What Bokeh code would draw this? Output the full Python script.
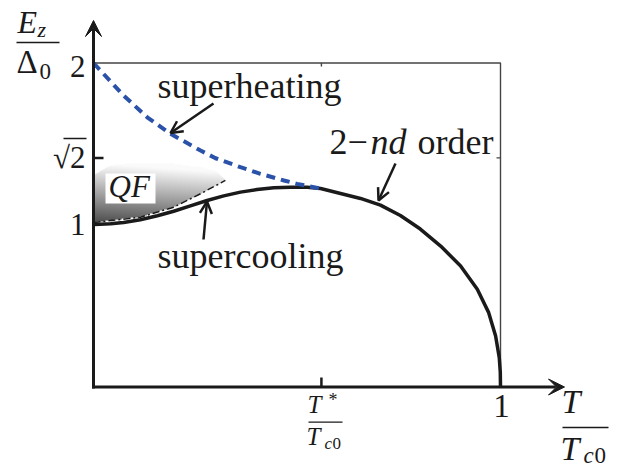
import numpy as np
from bokeh.plotting import figure
from bokeh.models import Range1d, Label, Arrow, VeeHead, OpenHead
from bokeh.embed import file_html
from bokeh.resources import INLINE

# ---------------- data ----------------
# second-order transition line (solid)
T_second = [0.002, 0.042, 0.074, 0.115, 0.157, 0.197, 0.238, 0.279, 0.320, 0.361,
            0.402, 0.443, 0.484, 0.525, 0.558, 0.607, 0.656, 0.705, 0.754, 0.803,
            0.853, 0.902, 0.943, 0.971, 0.988, 0.997, 0.9995, 1.000]
E_second = [1.003, 1.007, 1.015, 1.032, 1.057, 1.085, 1.118, 1.151, 1.180, 1.203,
            1.219, 1.230, 1.233, 1.233, 1.225, 1.194, 1.164, 1.123, 1.059, 0.975,
            0.870, 0.747, 0.603, 0.459, 0.315, 0.181, 0.090, 0.000]
# superheating line (blue dashed)
T_superheat = [0.000, 0.074, 0.132, 0.189, 0.263, 0.300, 0.361, 0.410, 0.468, 0.500, 0.558]
E_superheat = [2.000, 1.799, 1.665, 1.563, 1.460, 1.412, 1.357, 1.316, 1.275, 1.254, 1.225]
# supercooling line (dash-dot), lower edge of QF region
T_supercool = [0.000, 0.115, 0.197, 0.263, 0.324]
E_supercool = [1.015, 1.048, 1.110, 1.193, 1.275]
# upper edge of the QF (shaded) region
T_qf_top = [0.000, 0.042, 0.098, 0.182, 0.263, 0.300, 0.324]
E_qf_top = [1.305, 1.367, 1.380, 1.380, 1.355, 1.330, 1.275]

y_ticks = [2.0, float(np.sqrt(2.0)), 1.0]
y_tick_labels = ["2", "\u221a2", "1"]
T_star = 0.56
x_ticks = [T_star, 1.0]
T_max, E_max = 1.0, 2.0

# ---------------- geometry (page pixels -> data) ----------------
W, H = 628, 470
X0, X1 = 93.0, 500.0
Y0, YS = 386.5, 162.0


def tx(px):
    return (px - X0) / (X1 - X0)


def ey(py):
    return (Y0 - py) / YS


SERIF = "Liberation Serif"
INK = "#1a1a1a"
BLUE = "#2a52a8"

p = figure(width=W, height=H,
           x_range=Range1d(tx(0), tx(W)), y_range=Range1d(ey(H), ey(0)),
           output_backend="svg", toolbar_location=None,
           x_axis_location=None, y_axis_location=None, min_border=0)
p.outline_line_color = None
p.background_fill_color = "white"
p.border_fill_color = "white"
p.xgrid.visible = False
p.ygrid.visible = False

# ---------------- QF shaded region (gradient) ----------------
t0, t1 = 0.0, max(T_qf_top)
e0, e1 = min(E_supercool), max(E_qf_top)
nx = int(round((t1 - t0) * (X1 - X0))) * 2
ny = int(round((e1 - e0) * YS)) * 2
tt = t0 + (np.arange(nx) + 0.5) / nx * (t1 - t0)
ee = e0 + (np.arange(ny) + 0.5) / ny * (e1 - e0)
lo = np.interp(tt, T_supercool, E_supercool)
hi = np.interp(tt, T_qf_top, E_qf_top)
TT, EE = np.meshgrid(tt, ee)
inside = (EE >= lo[None, :]) & (EE <= hi[None, :])
g = np.clip(70 + 480 * (EE - 1.0) + 80 * TT, 0, 250).astype(np.uint8)
img = np.zeros((ny, nx), dtype=np.uint32)
view = img.view(dtype=np.uint8).reshape((ny, nx, 4))
view[..., 0] = g
view[..., 1] = g
view[..., 2] = g
view[..., 3] = np.where(inside, 255, 0).astype(np.uint8)
p.image_rgba(image=[img], x=t0, y=e0, dw=t1 - t0, dh=e1 - e0)

# QF label box
p.quad(left=tx(105), right=tx(155), bottom=ey(203), top=ey(173),
       fill_color="white", line_color=None)

# ---------------- frame box ----------------
p.line([0, T_max, T_max], [E_max, E_max, 0], line_color="#444444", line_width=1.4)
p.segment(x0=[T_max], y0=[y_ticks[1]], x1=[tx(496)], y1=[y_ticks[1]], line_color="#444444", line_width=1.4)
p.segment(x0=[T_star], y0=[E_max], x1=[T_star], y1=[ey(66)], line_color="#444444", line_width=1.4)

# ---------------- curves ----------------
p.line(T_supercool, E_supercool, line_color=INK, line_width=1.5, line_dash="7 3 2 3")
p.line(T_second, E_second, line_color=INK, line_width=3.5, line_join="round")
p.line(T_superheat, E_superheat, line_color=BLUE, line_width=4, line_dash="9 6")

# ---------------- axes ----------------
p.add_layout(Arrow(end=VeeHead(size=16, fill_color=INK, line_color=INK, line_width=1),
                   x_start=tx(91.5), y_start=0, x_end=tx(564), y_end=0,
                   line_color=INK, line_width=3))
p.add_layout(Arrow(end=VeeHead(size=16, fill_color=INK, line_color=INK, line_width=1),
                   x_start=0, y_start=ey(388), x_end=0, y_end=ey(20),
                   line_color=INK, line_width=3))
# ticks
p.segment(x0=[0], y0=[y_ticks[1]], x1=[tx(103)], y1=[y_ticks[1]], line_color=INK, line_width=2.5)
p.segment(x0=[T_star], y0=[0], x1=[T_star], y1=[ey(377)], line_color=INK, line_width=2.5)

BASE_SHIFT = 0.35  # renderer places the anchor near the glyph middle


def txt(px, py, s, size, italic=False, align="left"):
    p.add_layout(Label(x=tx(px), y=ey(py - BASE_SHIFT * size), text=s, text_font=SERIF,
                       text_font_size=f"{size}px",
                       text_font_style="italic" if italic else "normal",
                       text_align=align, text_baseline="alphabetic", text_color=INK))


def bar(px0, px1, py, lw=1.5):
    p.segment(x0=[tx(px0)], y0=[ey(py)], x1=[tx(px1)], y1=[ey(py)], line_color=INK, line_width=lw)


# y tick labels
label_base = [77, 168, 235]
for v, s, b in zip(y_ticks, y_tick_labels, label_base):
    txt(85, b, s, 31, align="right")
bar(63, 86, 138, 1.6)  # vinculum of sqrt

# x tick labels
txt(501, 417, "1", 33, align="center")
txt(307, 413, "T", 25, italic=True)
txt(328, 406, "*", 18)
bar(308, 342, 421.7, 1.3)
txt(306, 445, "T", 25, italic=True)
txt(324, 449, "c", 17, italic=True)
txt(332, 449, "0", 17)

# axis titles
txt(17, 33, "E", 32, italic=True)
txt(37, 37, "z", 22, italic=True)
bar(16, 59, 42, 1.6)
txt(16, 73, "\u0394", 33)
txt(39, 79, "0", 23)

txt(561, 413, "T", 34, italic=True)
bar(562, 608, 427, 1.6)
txt(560, 460, "T", 34, italic=True)
txt(583, 463, "c", 23, italic=True)
txt(594, 463, "0", 23)

# annotations
txt(157, 98, "superheating", 36)
txt(157, 268, "supercooling", 36)
txt(329, 154, "2\u2212", 36)
txt(370, 154, "nd", 36, italic=True)
txt(417, 154, "order", 36)
txt(108, 197, "QF", 31, italic=True)

# annotation arrows
for (xs, ys, xe, ye) in [(213, 103, 170, 132.5), (395, 163, 378, 200), (203, 239, 206.5, 201)]:
    p.add_layout(Arrow(end=OpenHead(size=12, line_width=2.5, line_color=INK),
                       x_start=tx(xs), y_start=ey(ys), x_end=tx(xe), y_end=ey(ye),
                       line_color=INK, line_width=2.5))

open("out.html", "w").write(file_html(p, INLINE))
